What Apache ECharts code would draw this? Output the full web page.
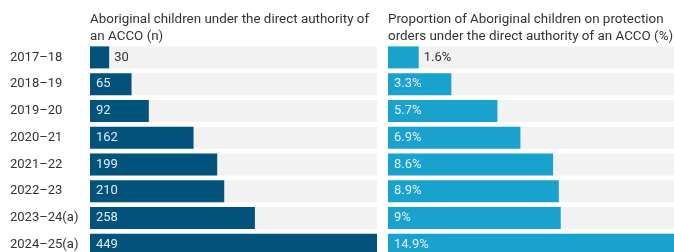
<!DOCTYPE html>
<html>
<head>
<meta charset="utf-8">
<script src="https://cdn.jsdelivr.net/npm/echarts@6/dist/echarts.min.js"></script>
<style>
  html, body { margin: 0; padding: 0; background: #fff; overflow: hidden; }
  /* taller than the window: the last row is cut off in the original */
  #chart { width: 674px; height: 262px; }
</style>
</head>
<body>
<div id="chart"></div>
<script>
// data
const years = ['2017–18', '2018–19', '2019–20', '2020–21', '2021–22', '2022–23', '2023–24(a)', '2024–25(a)'];
const children = [30, 65, 92, 162, 199, 210, 258, 449];
const proportion = [1.6, 3.3, 5.7, 6.9, 8.6, 8.9, 9, 14.9];

const font = 'Roboto, "Noto Sans", sans-serif';
const textColor = '#333333';

// small bars get their label outside
const withLabels = (values, max, inner, fmt) => values.map(v => {
  const small = v / max < 0.12;
  return {
    value: v,
    label: {
      position: small ? 'right' : 'insideLeft',
      distance: small ? 5 : 6,
      color: small ? textColor : inner,
      formatter: fmt
    }
  };
});

const chart = echarts.init(document.getElementById('chart'));

const titleStyle = { fontSize: 13.4, fontWeight: 'normal', color: textColor, lineHeight: 17, fontFamily: font };

const option = {
  animation: false,
  textStyle: { fontFamily: font },
  title: [
    {
      text: 'Aboriginal children under the direct authority of\nan ACCO (n)',
      left: 90, top: 11, padding: 0,
      textStyle: titleStyle
    },
    {
      text: 'Proportion of Aboriginal children on protection\norders under the direct authority of an ACCO (%)',
      left: 388, top: 11, padding: 0,
      textStyle: titleStyle
    }
  ],
  grid: [
    { left: 90, top: 44, width: 287, height: 214 },
    { left: 388, top: 44, width: 286, height: 214 }
  ],
  xAxis: [
    { gridIndex: 0, type: 'value', min: 0, max: 449, show: false },
    { gridIndex: 1, type: 'value', min: 0, max: 14.9, show: false }
  ],
  yAxis: [
    {
      gridIndex: 0, type: 'category', data: years, inverse: true,
      axisLine: { show: false }, axisTick: { show: false },
      axisLabel: { align: 'left', margin: 80, fontSize: 13, color: textColor, fontFamily: font }
    },
    {
      gridIndex: 1, type: 'category', data: years, inverse: true,
      axisLine: { show: false }, axisTick: { show: false }, axisLabel: { show: false }
    }
  ],
  series: [
    {
      type: 'bar', xAxisIndex: 0, yAxisIndex: 0,
      barWidth: 22,
      itemStyle: { color: '#01537b' },
      showBackground: true,
      backgroundStyle: { color: '#f2f2f2' },
      label: { show: true, fontSize: 13, fontFamily: font },
      data: withLabels(children, 449, '#e3ecf2', '{c}')
    },
    {
      type: 'bar', xAxisIndex: 1, yAxisIndex: 1,
      barWidth: 22,
      itemStyle: { color: '#1aa2ce' },
      showBackground: true,
      backgroundStyle: { color: '#f2f2f2' },
      label: { show: true, fontSize: 13, fontFamily: font },
      data: withLabels(proportion, 14.9, '#e2f2f8', '{c}%')
    }
  ]
};

chart.setOption(option);
</script>
</body>
</html>
